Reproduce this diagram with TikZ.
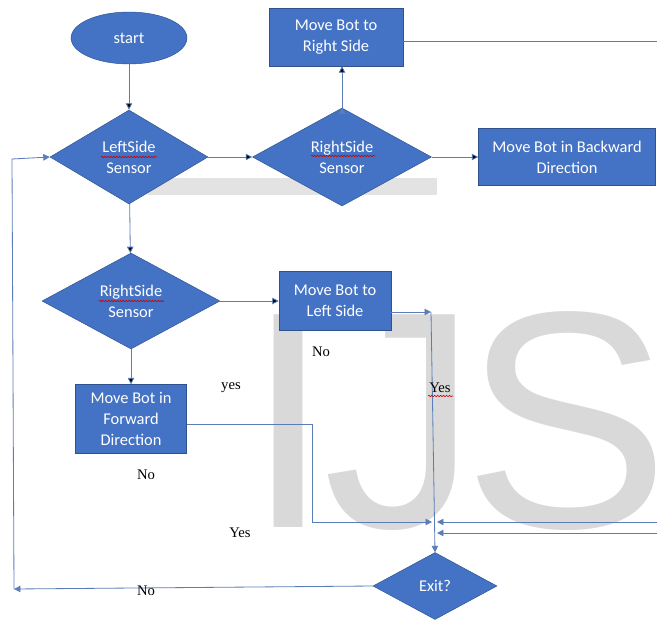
\documentclass[tikz,border=0pt]{standalone}
\usepackage{fontspec}
\setmainfont{Carlito}
\newfontfamily\tnr{Liberation Serif}
\newfontfamily\wmfont{Liberation Sans}
\usetikzlibrary{shapes.geometric,arrows.meta,positioning,decorations.pathmorphing}

\definecolor{boxblue}{RGB}{68,114,196}
\definecolor{boxedge}{RGB}{47,82,143}
\definecolor{wline}{RGB}{90,125,185}

\begin{document}
\begin{tikzpicture}[x=0.03cm,y=-0.03cm,node distance=3cm,on grid,
 >={Triangle[length=5.5pt,width=5.5pt]},
 every node/.style={font=\fontsize{14}{18}\selectfont},
 term/.style={ellipse,draw=boxedge,fill=boxblue,text=white,minimum width=3.48cm,minimum height=1.56cm,inner sep=0pt},
 decision/.style={diamond,draw=boxedge,fill=boxblue,text=white,align=center,inner sep=0pt},
 action/.style={rectangle,draw=boxedge,fill=boxblue,text=white,align=center,inner sep=2pt},
 note/.style={font=\tnr\fontsize{12.5}{15}\selectfont},
 link/.style={draw=wline,line width=0.7pt},
 spell/.style={draw=red!80!black,line width=0.5pt,decorate,decoration={snake,amplitude=0.6pt,segment length=2.5pt}}]

 \useasboundingbox (0,0) rectangle (657,623);

 % watermark and grey strip
 \fill[gray!22] (148,178) rectangle (437,195);
 \node[anchor=base west,inner sep=0pt,text=gray!30,font=\wmfont\fontsize{264}{264}\selectfont] (wm) at (245,527) {I\kern-7pt J\kern-12pt S};

 \node[term] (start) at (129,38) {start};
 \node[decision,minimum width=4.74cm,minimum height=2.82cm] (lss) [below=3.57cm of start] {LeftSide\\Sensor};
 \node[decision,minimum width=5.37cm,minimum height=2.94cm] (rss) [right=6.39cm of lss] {RightSide\\Sensor};
 \node[action,minimum width=4.02cm,minimum height=1.74cm] (rbox) [above=3.6cm of rss,xshift=-0.18cm] {Move Bot to\\Right Side};
 \node[action,minimum width=5.31cm,minimum height=1.71cm] (bbox) [right=6.75cm of rss] {Move Bot in Backward\\Direction};
 \node[decision,minimum width=5.34cm,minimum height=2.88cm] (rs2) [below=4.32cm of lss,xshift=0.06cm] {RightSide\\Sensor};
 \node[action,minimum width=3.36cm,minimum height=1.77cm] (lbox) [right=6.12cm of rs2] {Move Bot to\\Left Side};
 \node[action,minimum width=3.33cm,minimum height=2.07cm] (fbox) [below=3.54cm of rs2] {Move Bot in\\Forward\\Direction};
 \node[decision,minimum width=3.72cm,minimum height=2.01cm] (exit) at (435,586) {Exit?};

 % free ends
 \coordinate (rout) at (657,41);
 \coordinate (jn) at (431,312);
 \coordinate (fb) at (312,424);
 \coordinate (m1) at (432,522);
 \coordinate (r1) at (657,522);
 \coordinate (m2) at (437,522);
 \coordinate (r2) at (657,533);
 \coordinate (m3) at (437,533);
 \coordinate (back) at (14,589);
 \coordinate (top) at (12,159);

 \path[->,link]
 (start) edge (lss)
 (lss) edge (rss)
 (rss.north) edge (rss.north |- rbox.south)
 (rss) edge (bbox)
 (lss) edge (rs2)
 (rs2) edge (lbox)
 (rs2) edge (fbox);

 \draw[link] (rbox.east |- rout) -- (rout);
 \draw[->,link] (lbox.east |- jn) -- (jn);
 \draw[->,link] (jn) -- (exit.north);
 \draw[->,link] (fbox.east |- fb) -- (fb) |- (m1);
 \draw[->,link] (r1) -- (m2);
 \draw[->,link] (r2) -- (m3);
 \draw[->,link] (exit.west) -- (back);
 \draw[->,link] (back) -- (top) -- (lss.west);

 \node[note] (no1) at (321,352) {No};
 \node[note] (yes1) at (231,388) {yes};
 \node[note] (yes2) at (440,388) {Yes};
 \node[note] (no2) at (146,475) {No};
 \node[note] (yes3) at (240,533) {Yes};
 \node[note] (no3) at (146,591) {No};

 % spelling marks
 \draw[spell] (101,157) -- (157,157);
 \draw[spell] (311,156) -- (375,156);
 \draw[spell] (99,301) -- (164,301);
 \draw[spell] (428,396) -- (453,396);
\end{tikzpicture}
\end{document}
